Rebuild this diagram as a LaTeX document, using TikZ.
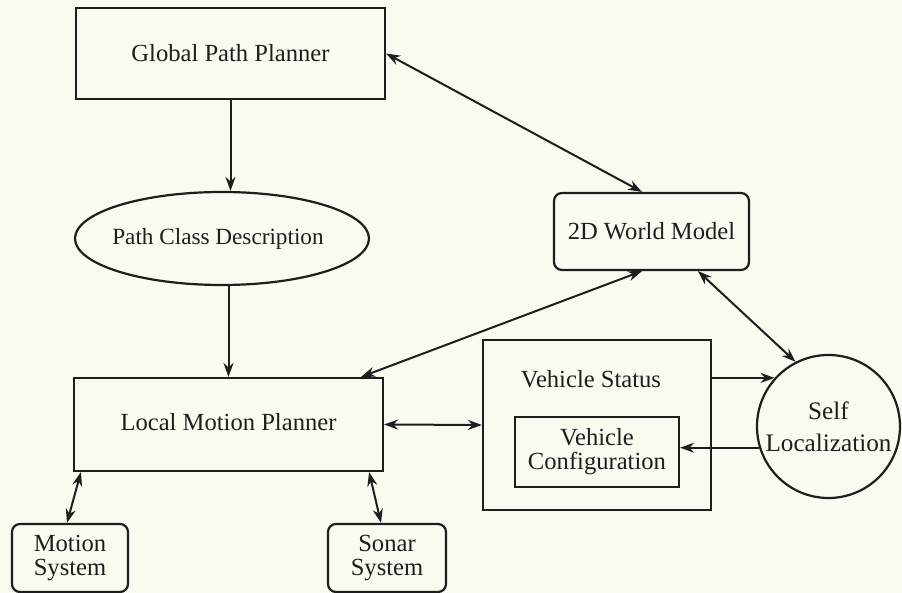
\documentclass[tikz,border=0pt]{standalone}
\usepackage{fontspec}
\setmainfont{Liberation Serif}
\usetikzlibrary{shapes.geometric,arrows.meta}
\definecolor{bg}{RGB}{250,250,240}
\definecolor{ink}{RGB}{30,30,30}
\tikzset{
  every node/.style={text=ink,font=\fontsize{12.3}{12}\selectfont},
  box/.style={draw=ink,line width=1.1pt,rectangle,inner sep=0pt},
  rbox/.style={box,rounded corners=4pt},
  conn/.style={draw=ink,line width=1pt,-{Stealth[length=7pt,width=5pt]}},
  bconn/.style={draw=ink,line width=1pt,{Stealth[length=7pt,width=5pt]}-{Stealth[length=7pt,width=5pt]}}
}
\begin{document}
\begin{tikzpicture}[x=0.5pt,y=-0.5pt]
\fill[bg] (0,0) rectangle (902,593);
\useasboundingbox (0,0) rectangle (902,593);

\node[box,minimum width=154.5pt,minimum height=45.5pt] (gpp) at (230.5,53.5) {Global Path Planner};
\node[draw=ink,line width=1.1pt,ellipse,minimum width=147pt,minimum height=46.5pt,inner sep=0pt,
      label={[font=\fontsize{11.6}{12}\selectfont,xshift=-2pt]center:Path Class Description}] (pcd) at (222,238.5) {};
\node[rbox,minimum width=97.5pt,minimum height=38.5pt] (wm) at (651.5,231.5) {2D World Model};
\node[box,minimum width=154.5pt,minimum height=46.5pt] (lmp) at (228.5,424.5) {\raisebox{3pt}{Local Motion Planner}};
\node[rbox,minimum width=58pt,minimum height=34pt,align=center] (ms) at (70,558) {Motion\\System};
\node[rbox,minimum width=59pt,minimum height=34pt,align=center] (ss) at (387,558) {Sonar\\System};
\node[box,minimum width=114pt,minimum height=85pt] (vs) at (597,425) {};
\node (vst) at (591,379) {Vehicle Status};
\node[box,minimum width=82pt,minimum height=35pt,align=center] (vc) at (597,452) {Vehicle\\Configuration};
\node[draw=ink,line width=1.1pt,circle,minimum size=71.5pt,inner sep=0pt,align=center,font=\fontsize{12.6}{16}\selectfont] (sl) at (828.5,426.5) {Self\\Localization};

\draw[conn] (gpp.south) -- (gpp.south |- pcd.north);
\draw[bconn] (gpp.east) -- ([xshift=-4.75pt]wm.north);
\draw[conn] (lmp.north |- pcd.south) -- (lmp.north);
\draw[bconn] ([xshift=-4.75pt]wm.south) -- ([xshift=-11.5pt]lmp.north east);
\draw[bconn] ([xshift=23.25pt]wm.south) -- (sl.117);
\draw[bconn] (lmp.east) -- (vs.west);
\draw[conn] (vs.east |- sl.138.4) -- (sl.138.4);
\draw[conn] (sl.197.5) -- (sl.197.5 -| vc.east);
\draw[bconn] ([xshift=4pt]lmp.south west) -- ([xshift=-1.5pt]ms.north);
\draw[bconn] ([xshift=-7.5pt]lmp.south east) -- ([xshift=-3pt]ss.north);
\end{tikzpicture}
\end{document}
